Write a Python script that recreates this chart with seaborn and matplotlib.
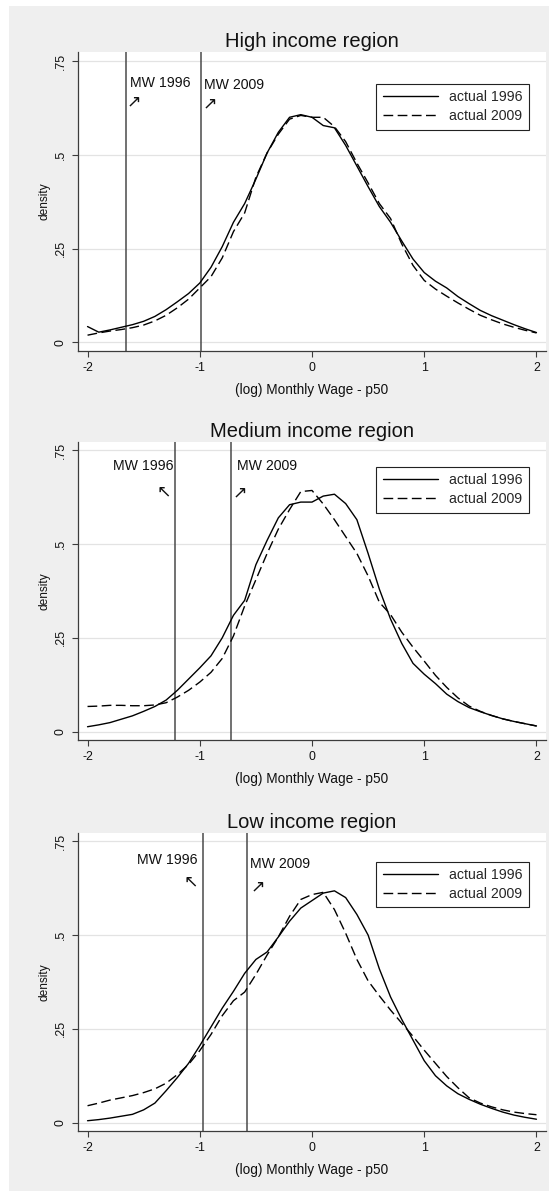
import matplotlib
matplotlib.use("Agg")
import matplotlib.pyplot as plt
import seaborn as sns
import pandas as pd
from matplotlib.patches import Rectangle

# Estilo base y fuentes (despues de set_style, que reescribe font.family)
sns.set_style("white")
plt.rcParams['font.family'] = ['Liberation Sans', 'DejaVu Sans']

GRIS_FONDO = "#efefef"
GRIS_LINEA_MW = "#4a4a4a"
GRIS_GRILLA = "#e3e3e3"
NEGRO = "#000000"

# =====================================================================
# DATOS
# =====================================================================
WAGE_GRID = [-2.0, -1.9, -1.8, -1.7, -1.6, -1.5, -1.4, -1.3, -1.2, -1.1,
             -1.0, -0.9, -0.8, -0.7, -0.6, -0.5, -0.4, -0.3, -0.2, -0.1,
             0.0, 0.1, 0.2, 0.3, 0.4, 0.5, 0.6, 0.7, 0.8, 0.9,
             1.0, 1.1, 1.2, 1.3, 1.4, 1.5, 1.6, 1.7, 1.8, 1.9, 2.0]

SERIES = ["actual 1996", "actual 2009"]

HIGH_1996 = [0.042, 0.027, 0.033, 0.040, 0.047, 0.056, 0.069, 0.087, 0.108, 0.130,
             0.158, 0.200, 0.255, 0.320, 0.370, 0.435, 0.505, 0.560, 0.600, 0.607,
             0.600, 0.578, 0.572, 0.525, 0.470, 0.415, 0.362, 0.320, 0.270, 0.222,
             0.186, 0.163, 0.145, 0.122, 0.103, 0.085, 0.071, 0.059, 0.047, 0.036, 0.026]
HIGH_2009 = [0.019, 0.025, 0.030, 0.034, 0.039, 0.046, 0.057, 0.072, 0.092, 0.115,
             0.145, 0.175, 0.225, 0.295, 0.345, 0.440, 0.505, 0.555, 0.595, 0.605,
             0.600, 0.600, 0.575, 0.535, 0.478, 0.425, 0.370, 0.330, 0.262, 0.205,
             0.165, 0.142, 0.123, 0.105, 0.088, 0.072, 0.060, 0.049, 0.040, 0.032, 0.025]

MEDIUM_1996 = [0.013, 0.018, 0.024, 0.033, 0.042, 0.054, 0.067, 0.084, 0.110, 0.140,
               0.170, 0.202, 0.250, 0.310, 0.350, 0.445, 0.510, 0.570, 0.605, 0.612,
               0.612, 0.628, 0.633, 0.608, 0.565, 0.475, 0.380, 0.300, 0.235, 0.182,
               0.153, 0.128, 0.100, 0.080, 0.064, 0.053, 0.043, 0.034, 0.027, 0.021, 0.015]
MEDIUM_2009 = [0.067, 0.068, 0.070, 0.070, 0.069, 0.069, 0.071, 0.077, 0.092, 0.110,
               0.132, 0.158, 0.195, 0.255, 0.335, 0.405, 0.475, 0.540, 0.592, 0.640,
               0.643, 0.607, 0.565, 0.520, 0.475, 0.415, 0.345, 0.312, 0.265, 0.225,
               0.188, 0.150, 0.118, 0.090, 0.068, 0.054, 0.043, 0.034, 0.027, 0.021, 0.015]

LOW_1996 = [0.005, 0.008, 0.012, 0.017, 0.022, 0.034, 0.052, 0.085, 0.120, 0.158,
            0.205, 0.255, 0.305, 0.350, 0.398, 0.435, 0.455, 0.495, 0.537, 0.572,
            0.592, 0.612, 0.618, 0.600, 0.555, 0.500, 0.410, 0.335, 0.275, 0.220,
            0.165, 0.125, 0.098, 0.077, 0.062, 0.049, 0.038, 0.028, 0.020, 0.014, 0.009]
LOW_2009 = [0.045, 0.052, 0.060, 0.066, 0.072, 0.080, 0.090, 0.105, 0.128, 0.155,
            0.192, 0.235, 0.285, 0.325, 0.348, 0.395, 0.447, 0.495, 0.550, 0.595,
            0.608, 0.614, 0.568, 0.505, 0.435, 0.378, 0.338, 0.300, 0.265, 0.230,
            0.193, 0.158, 0.123, 0.093, 0.066, 0.052, 0.042, 0.034, 0.028, 0.024, 0.021]

# Salario minimo (log, respecto a p50) por region: 1996, 2009
MW_HIGH = [-1.66, -0.99]
MW_MEDIUM = [-1.22, -0.72]
MW_LOW = [-0.97, -0.58]

TITULOS = ["High income region", "Medium income region", "Low income region"]
Y_TICKS = [0, 0.25, 0.5, 0.75]
Y_TICK_LABELS = ["0", ".25", ".5", ".75"]
X_TICKS = [-2, -1, 0, 1, 2]


def armar_tabla(y1996, y2009):
    return pd.DataFrame({
        "wage": WAGE_GRID + WAGE_GRID,
        "density": y1996 + y2009,
        "serie": [SERIES[0]] * len(WAGE_GRID) + [SERIES[1]] * len(WAGE_GRID),
    })


def graficar_panel(fig, rect, titulo, y1996, y2009, mw, notas, flechas, tope_legend):
    ax = fig.add_axes(rect)
    ax.set_facecolor("white")

    tabla = armar_tabla(y1996, y2009)
    sns.lineplot(data=tabla, x="wage", y="density", style="serie",
                 dashes={SERIES[0]: "", SERIES[1]: (7, 3.2)},
                 color=NEGRO, linewidth=1.0, estimator=None, ax=ax, zorder=3)

    # Lineas verticales del salario minimo
    for valor in mw:
        ax.axvline(valor, color=GRIS_LINEA_MW, linewidth=1.1, zorder=2)

    # Textos "MW" y flechas
    for x, y, texto, ha in notas:
        ax.text(x, y, texto, ha=ha, va="center", fontsize=10.2, color="#111111", zorder=4)
    for x, y, glifo in flechas:
        ax.text(x, y, glifo, ha="center", va="center", fontsize=12.5,
                family="DejaVu Sans", color="#111111", zorder=4)

    ax.set_xlim(-2.085, 2.085)
    ax.set_ylim(-0.0224, 0.7733)
    ax.set_xticks(X_TICKS)
    ax.set_xticklabels([str(t) for t in X_TICKS])
    ax.set_yticks(Y_TICKS)
    ax.set_yticklabels(Y_TICK_LABELS, rotation=90, va="center")

    ax.yaxis.grid(True, color=GRIS_GRILLA, linewidth=0.9)
    ax.xaxis.grid(False)
    ax.set_axisbelow(True)

    for spine in ["top", "right"]:
        ax.spines[spine].set_visible(False)
    for spine in ["left", "bottom"]:
        ax.spines[spine].set_color("#3c3c3c")
        ax.spines[spine].set_linewidth(0.9)

    ax.tick_params(bottom=True, left=True, direction="out", length=4.5, width=0.8,
                   color="#3c3c3c", labelsize=8.9, pad=3.5, labelcolor="#111111")

    ax.set_title(titulo, fontsize=14.5, pad=3.5, color="#111111")
    ax.set_xlabel("(log) Monthly Wage - p50", fontsize=9.8, labelpad=6.5, color="#111111")
    ax.set_ylabel("density", fontsize=8.6, labelpad=3.5, color="#111111")

    # Leyenda con caja negra
    handles, labels = ax.get_legend_handles_labels()
    leyenda = ax.legend(handles, labels, loc="upper right",
                        bbox_to_anchor=(0.964, tope_legend), borderaxespad=0,
                        fontsize=10.2, handlelength=3.9, handletextpad=0.8,
                        borderpad=0.45, labelspacing=0.35, frameon=True,
                        fancybox=False, edgecolor="#222222", framealpha=1)
    leyenda.get_frame().set_linewidth(0.8)
    for h in leyenda.legend_handles:
        h.set_color(NEGRO)
        h.set_linewidth(1.0)
    return ax


fig = plt.figure(figsize=(5.53, 11.91), dpi=100)
fig.patch.set_facecolor("white")
fondo = Rectangle((9 / 553, 0), 540 / 553, 1 - 6 / 1191,
                  transform=fig.transFigure, facecolor=GRIS_FONDO,
                  edgecolor="none", zorder=-10)
fig.patches.append(fondo)

ANCHO = 468 / 553
IZQ = 78 / 553
ALTO = 298.4 / 1191
NE, NO = "\u2197", "\u2196"

graficar_panel(fig, [IZQ, 1 - 350.7 / 1191, ANCHO, ALTO], TITULOS[0],
               HIGH_1996, HIGH_2009, MW_HIGH,
               [(-1.62, 0.691, "MW 1996", "left"), (-0.963, 0.686, "MW 2009", "left")],
               [(-1.585, 0.641, NE), (-0.91, 0.637, NE)],
               0.894)

graficar_panel(fig, [IZQ, 1 - 740 / 1191, ANCHO, ALTO], TITULOS[1],
               MEDIUM_1996, MEDIUM_2009, MW_MEDIUM,
               [(-1.236, 0.707, "MW 1996", "right"), (-0.672, 0.707, "MW 2009", "left")],
               [(-1.318, 0.641, NO), (-0.645, 0.639, NE)],
               0.915)

graficar_panel(fig, [IZQ, 1 - 1131 / 1191, ANCHO, ALTO], TITULOS[2],
               LOW_1996, LOW_2009, MW_LOW,
               [(-1.019, 0.700, "MW 1996", "right"), (-0.554, 0.689, "MW 2009", "left")],
               [(-1.083, 0.644, NO), (-0.487, 0.629, NE)],
               0.903)

fig.savefig("out.png", dpi=100, facecolor=fig.get_facecolor())
plt.close(fig)
